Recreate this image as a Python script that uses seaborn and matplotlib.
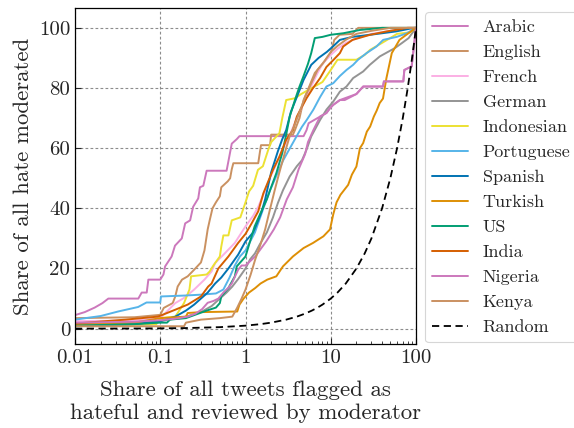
import numpy as np
import pandas as pd
import matplotlib
matplotlib.use("Agg")
import matplotlib.pyplot as plt
import matplotlib.ticker as mticker
import seaborn as sns

# ---------------- data ----------------
arabic_x = [0.01, 0.013, 0.017, 0.021, 0.0246, 0.0553, 0.0606, 0.0694, 0.0725, 0.1, 0.109, 0.114, 0.136, 0.149,
            0.179, 0.196, 0.224, 0.243, 0.279, 0.292, 0.32, 0.35, 0.60, 0.69, 0.79, 0.85, 2.6, 4.8, 5.2, 5.5,
            7.5, 8.9, 9.8, 10.7, 12.8, 14.6, 20, 24, 41, 42, 71, 73, 89, 100]
arabic_y = [4.5, 5.5, 7, 8.5, 10, 10, 12, 12, 16.3, 16.3, 18, 20.7, 24, 27.6,
            30, 35, 36, 40.5, 43.3, 47, 47.5, 52.5, 52.5, 61.5, 63, 64, 64, 64, 66, 68.3,
            70.5, 71.7, 73.3, 74.4, 76, 76, 78, 80.5, 80.5, 82.2, 82.2, 86, 87.2, 100]

english_x = [0.01, 0.05, 0.1, 0.11, 0.14, 0.15, 0.16, 0.18, 0.21, 0.25, 0.3, 0.33, 0.36, 0.38, 0.41, 0.45, 0.5,
             0.52, 0.62, 0.66, 0.69, 0.72, 1.41, 1.47, 1.52, 1.94, 2.0, 3.6, 3.8, 4.3, 4.8, 5.5, 6.5, 8, 9,
             10, 11, 12.7, 18, 21, 100]
english_y = [3.5, 3.8, 4.6, 6.9, 8.5, 10.7, 14, 16.3, 17.4, 19.6, 22, 26, 33, 36, 40, 42, 44,
             47, 49, 50, 53, 55, 55, 58.4, 61, 61, 64.5, 64.5, 66, 70, 76, 80, 85, 88, 90,
             91.6, 96, 97.7, 98, 100, 100]

french_x = [0.01, 0.05, 0.1, 0.15, 0.19, 0.25, 0.33, 0.4, 0.44, 0.57, 0.75, 1.0, 1.23, 1.41, 1.7, 2.0, 2.5,
            3.0, 3.5, 4.0, 5, 6, 7, 8, 10, 12, 15, 20, 30, 50, 80, 100]
french_y = [2.5, 2.7, 3.5, 8.5, 10.2, 13, 16.3, 19, 21.8, 25, 28.5, 34, 37.5, 40.5, 46, 51, 57,
            62, 66, 70, 76, 81, 85, 88, 91, 93, 95, 96.5, 98, 99, 100, 100]

german_x = [0.01, 0.05, 0.1, 0.2, 0.3, 0.4, 0.5, 0.6, 0.7, 0.82, 1.0, 1.13, 1.29, 1.47, 1.78, 2.1, 2.4, 2.75,
            3.3, 4.0, 4.6, 5.2, 5.9, 7.5, 8.9, 10.7, 12.8, 15.3, 18.3, 24, 28.7, 37.6, 56.7, 68, 82, 100]
german_y = [1.5, 1.8, 2.5, 4, 5.5, 7.5, 10, 12, 14, 16.5, 20, 23, 25, 28, 32, 37, 41.8, 46,
            50.6, 54, 56, 59.5, 63.9, 69.4, 72.8, 75.5, 78.8, 80.5, 83.3, 85.5, 87.7, 90.5, 93.3, 94.9, 96.6, 100]

indonesian_x = [0.01, 0.09, 0.1, 0.15, 0.16, 0.19, 0.22, 0.23, 0.35, 0.38, 0.42, 0.5, 0.52, 0.55, 0.63, 0.69,
                0.87, 1.0, 1.1, 1.23, 1.4, 1.6, 1.85, 2.0, 2.5, 2.7, 3.0, 3.8, 4.5, 6, 8, 10, 12, 20, 25,
                29, 40, 60, 85, 100]
indonesian_y = [1, 1.5, 3.5, 4, 5.2, 8.5, 13, 17.4, 18, 19, 21, 24, 27.3, 31, 31, 36,
                37, 42, 45.6, 47.5, 52.8, 54, 59.5, 62, 65, 70, 76, 76.6, 78, 80, 82, 86, 89.4, 89.4, 91,
                92.7, 95, 98, 98.5, 100]

portuguese_x = [0.01, 0.02, 0.032, 0.055, 0.069, 0.1, 0.102, 0.19, 0.3, 0.45, 0.55, 0.65, 0.75, 0.86, 1.0,
                1.29, 1.62, 1.94, 2.32, 2.77, 3.32, 3.98, 4.57, 5.23, 6.25, 7.5, 8.9, 10.7, 12.8, 15.3,
                18.3, 20.9, 26.3, 34.4, 41.2, 59.4, 78, 100]
portuguese_y = [3, 4.2, 5.7, 7.2, 8.7, 8.7, 10.7, 11, 11.3, 11.7, 13, 17, 21, 24, 26,
                32, 40, 46, 51, 56, 60, 64, 67, 69.4, 72.8, 77, 80.5, 81.6, 84, 86,
                87.7, 89.4, 91.6, 93.8, 96, 97, 98.2, 100]

spanish_x = [0.01, 0.05, 0.1, 0.15, 0.2, 0.25, 0.3, 0.36, 0.44, 0.52, 0.63, 0.82, 1.0, 1.23, 1.41, 1.55, 1.7,
             2.0, 2.4, 2.7, 3.0, 3.4, 4.0, 4.8, 5.9, 7.2, 9, 10.8, 12.8, 18, 29, 58, 95, 100]
spanish_y = [0.8, 1.5, 2.5, 4, 6, 8, 10, 12, 15, 17, 20, 24.6, 29, 32, 36, 39, 43,
             52, 59, 63, 66, 72, 77, 82.7, 87.7, 90, 92, 94, 96, 97, 97.7, 98.8, 100, 100]

turkish_x = [0.01, 0.05, 0.1, 0.2, 0.21, 0.3, 0.8, 0.85, 0.95, 1.1, 1.3, 1.5, 1.8, 2.3, 2.75, 3.6, 4.8, 6.2,
             8.2, 9.8, 10.7, 11.7, 13, 16, 17.7, 20, 22, 24, 26.5, 29, 32, 34.6, 37.5, 41, 45, 52, 64, 77, 100]
turkish_y = [1.5, 2, 3.5, 4, 5.2, 5.5, 5.7, 8, 10, 12, 13.5, 15, 16.3, 17.4, 20.7, 24, 26.8, 28.5,
             30.7, 33, 38, 42, 44.5, 47.8, 51.2, 53.9, 60, 61.7, 65.5, 67.2, 70.5, 72.5, 75, 76.5, 83.3, 91.6,
             96, 97.7, 100]

us_x = [0.01, 0.05, 0.1, 0.12, 0.13, 0.2, 0.25, 0.35, 0.45, 0.5, 0.52, 0.63, 0.75, 0.79, 1.0, 1.13, 1.28,
        1.5, 1.78, 1.94, 2.3, 2.7, 3.0, 3.3, 3.8, 4.3, 4.8, 5.4, 5.9, 6.5, 8, 10, 14, 22, 40, 100]
us_y = [1, 1.5, 2, 2, 3, 3.5, 4.5, 6, 7, 8.5, 10.7, 13.5, 17.4, 20.7, 24, 29, 34,
        38.4, 43, 46, 51.7, 58.4, 64.5, 70.5, 76, 80.5, 84, 88, 91.6, 96.6, 97, 97.7, 98.2, 99.3, 100, 100]

india_x = [0.01, 0.039, 0.094, 0.15, 0.21, 0.3, 0.365, 0.4, 0.48, 0.63, 0.82, 1.0, 1.18, 1.41, 1.62, 2.1,
           2.5, 3.0, 3.6, 4.0, 4.6, 5.2, 6.2, 7.5, 8.9, 10.8, 12.8, 14, 18, 29, 45, 80, 100]
india_y = [1.7, 3, 4, 6.3, 8, 10.7, 14, 15, 20, 24, 28.5, 31.5, 35, 39, 45, 52.8,
           57.2, 62.8, 66, 70.5, 73.8, 76.6, 80, 83.3, 87, 89.4, 91.6, 93.8, 96, 97.7, 98.8, 100, 100]

nigeria_x = [0.01, 0.05, 0.1, 0.15, 0.21, 0.26, 0.31, 0.36, 0.42, 0.48, 0.55, 0.63, 0.69, 0.82, 0.9, 1.0,
             1.3, 1.75, 2.15, 2.55, 3.05, 3.6, 4.2, 5.0, 5.4, 6.25, 7.5, 8.9, 9.8, 10.7, 12.8, 20, 24,
             41, 42, 71, 73, 89, 100]
nigeria_y = [2, 2.3, 2.8, 3.3, 4, 5, 6.5, 8.6, 9.2, 10, 12, 13.6, 15, 19.6, 21, 21,
             24, 29, 33, 37, 43, 47, 53, 58, 62, 66, 70.5, 71.7, 73.3, 74.4, 76, 78, 80.5,
             80.5, 82.2, 82.2, 86, 87.2, 100]

kenya_x = [0.01, 0.1, 0.19, 0.2, 0.3, 0.5, 0.7, 0.8, 0.9, 1.0, 1.15, 1.3, 1.5, 1.7, 1.95, 2.2, 2.5, 2.8,
           3.0, 3.3, 3.8, 4.3, 5, 6, 7, 8.5, 10, 12, 15, 20, 30, 50, 100]
kenya_y = [0.8, 0.8, 0.8, 2, 3, 3.5, 4, 7, 10, 13, 18, 23, 28, 33, 40, 46, 52, 57,
           60, 64, 68, 72, 77, 82, 86, 89, 92, 94, 96, 98, 99, 100, 100]

random_x = [0.01, 0.05, 0.1, 0.2, 0.5, 1, 1.5, 2, 3, 4, 5, 6, 7, 8, 10, 12, 15, 20, 25, 30, 40, 50, 60,
            70, 80, 90, 100]
random_y = [0.01, 0.05, 0.1, 0.2, 0.5, 1, 1.5, 2, 3, 4, 5, 6, 7, 8, 10, 12, 15, 20, 25, 30, 40, 50, 60,
            70, 80, 90, 100]

series = [
    ("Arabic", arabic_x, arabic_y),
    ("English", english_x, english_y),
    ("French", french_x, french_y),
    ("German", german_x, german_y),
    ("Indonesian", indonesian_x, indonesian_y),
    ("Portuguese", portuguese_x, portuguese_y),
    ("Spanish", spanish_x, spanish_y),
    ("Turkish", turkish_x, turkish_y),
    ("US", us_x, us_y),
    ("India", india_x, india_y),
    ("Nigeria", nigeria_x, nigeria_y),
    ("Kenya", kenya_x, kenya_y),
]

x_ticks = [0.01, 0.1, 1, 10, 100]
x_tick_labels = ["0.01", "0.1", "1", "10", "100"]
y_ticks = [0, 20, 40, 60, 80, 100]

# ---------------- styling ----------------
sns.set_style("ticks")
plt.rcParams["font.family"] = ["cmr10", "DejaVu Serif"]
plt.rcParams["mathtext.fontset"] = "cm"
plt.rcParams["axes.unicode_minus"] = False
plt.rcParams["axes.formatter.use_mathtext"] = True

cb = sns.color_palette("colorblind", 10)
colors = [cb[(4 + i) % 10] for i in range(len(series))]

fig = plt.figure(figsize=(5.74, 4.28), dpi=100)
ax = fig.add_axes([75 / 574, (428 - 344) / 428, (416 - 75) / 574, (344 - 8) / 428])

for (name, xs, ys), c in zip(series, colors):
    df = pd.DataFrame({"x": xs, "y": ys})
    sns.lineplot(data=df, x="x", y="y", ax=ax, color=c, label=name, lw=1.4,
                 estimator=None, sort=False)

rdf = pd.DataFrame({"x": random_x, "y": random_y})
sns.lineplot(data=rdf, x="x", y="y", ax=ax, color="black", label="Random", lw=1.3,
             linestyle=(0, (4, 2.5)), estimator=None, sort=False)

ax.set_xscale("log")
ax.set_xlim(0.01, 100)
ax.set_ylim(-5.1, 106.6)
ax.set_xticks(x_ticks)
ax.xaxis.set_major_formatter(mticker.FixedFormatter(x_tick_labels))
ax.set_yticks(y_ticks)
ax.set_yticklabels([str(v) for v in y_ticks])
ax.tick_params(axis="both", which="major", labelsize=15, direction="in", length=4, width=0.8)
ax.tick_params(axis="x", which="minor", direction="in", length=2.5, width=0.6)
ax.grid(True, which="major", linestyle=(0, (2.5, 2)), color="#8c8c8c", linewidth=0.8)
for s in ax.spines.values():
    s.set_color("black")
    s.set_linewidth(0.9)

ax.set_xlabel("Share of all tweets flagged as\nhateful and reviewed by moderator", fontsize=16.5, labelpad=10)
ax.set_ylabel("Share of all hate moderated", fontsize=16.5, labelpad=4)

leg = ax.legend(loc="upper left", bbox_to_anchor=(425 / 574, 1 - 12 / 428),
                bbox_transform=fig.transFigure, fontsize=13, frameon=True,
                fancybox=True, edgecolor="#cccccc", handlelength=2.0, borderaxespad=0.0,
                labelspacing=0.52)
leg.get_frame().set_linewidth(0.8)

fig.savefig("out.png", dpi=100)
